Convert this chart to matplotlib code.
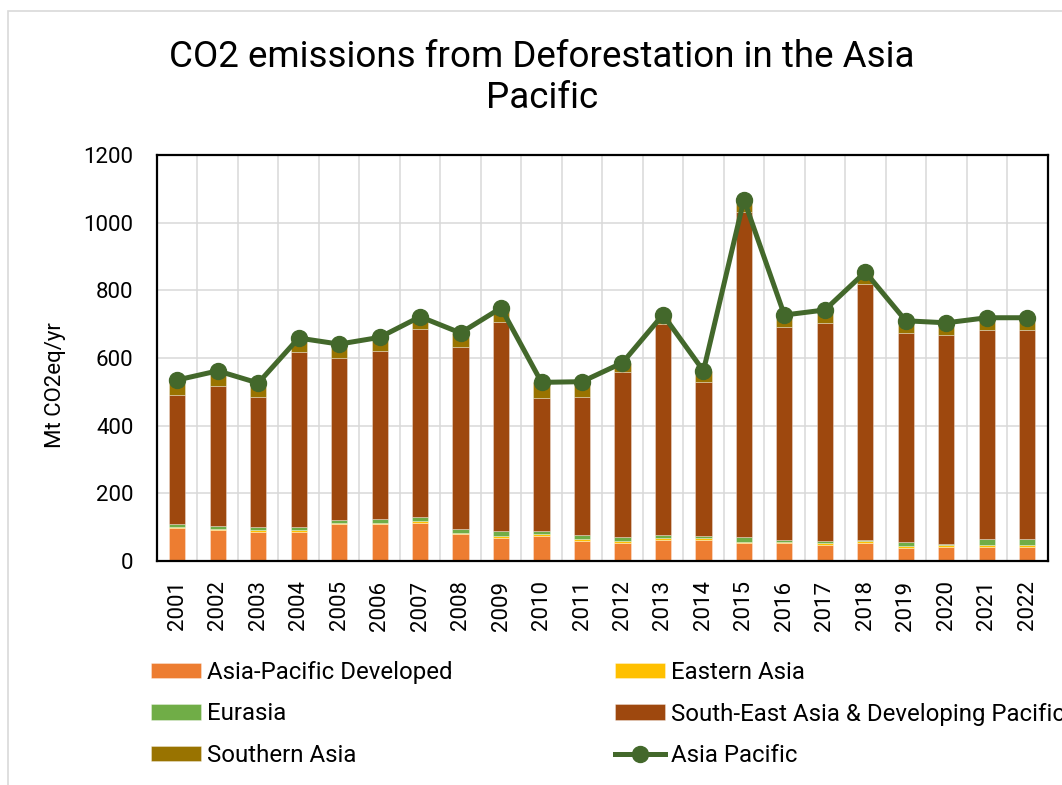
import matplotlib
matplotlib.use("Agg")
import matplotlib.pyplot as plt
from matplotlib.patches import Rectangle
import numpy as np

plt.rcParams['font.family'] = ['Roboto', 'DejaVu Sans']

years = [str(y) for y in range(2001, 2023)]

asia_pacific_developed = [98, 92, 87, 87, 108, 108, 113, 80, 69, 75, 59,
                          54, 61, 63, 52, 52, 48, 53, 37, 41, 41, 41]
eastern_asia = [3, 4, 4, 4, 4, 4, 5, 4, 4, 4, 5,
                5, 6, 5, 5, 5, 5, 5, 6, 6, 5, 6]
eurasia = [8, 8, 9, 10, 9, 12, 12, 10, 15, 10, 13,
           12, 11, 6, 15, 5, 7, 4, 14, 4, 19, 18]
south_east_asia = [383, 414, 384, 517, 480, 498, 557, 538, 619, 392, 409,
                   489, 623, 456, 961, 631, 644, 756, 618, 617, 618, 618]
southern_asia = [43, 44, 42, 41, 40, 39, 35, 42, 41, 47, 44,
                 26, 27, 32, 35, 34, 38, 36, 35, 36, 36, 36]

series = [
    ("Asia-Pacific Developed", asia_pacific_developed, "#ED7D31"),
    ("Eastern Asia", eastern_asia, "#FFC000"),
    ("Eurasia", eurasia, "#70AD47"),
    ("South-East Asia & Developing Pacific", south_east_asia, "#9E480E"),
    ("Southern Asia", southern_asia, "#997300"),
]
line_color = "#43682B"

# Regional total drawn as a line over the stacked bars
asia_pacific_total = np.sum([np.array(v) for _, v, _ in series], axis=0)

fig = plt.figure(figsize=(10.62, 7.85), dpi=100)
ax = fig.add_axes([157 / 1062, 1 - 561 / 785, (1047.5 - 157) / 1062, (561 - 155) / 785])

x = np.arange(len(years))
bottom = np.zeros(len(years))
handles = {}
for name, vals, color in series:
    h = ax.bar(x, vals, width=0.4, bottom=bottom, color=color,
               edgecolor=(1, 1, 1, 0.45), linewidth=0.5, zorder=2, label=name)
    handles[name] = h
    bottom += np.array(vals)

ln, = ax.plot(x, asia_pacific_total, color=line_color, linewidth=3.6,
              marker='o', markersize=11.5, zorder=3, label="Asia Pacific")

ax.set_xlim(-0.5, len(years) - 0.5)
ax.set_ylim(0, 1200)
ax.set_yticks(range(0, 1201, 200))
ax.set_xticks(x)
ax.set_xticklabels(years, rotation=90, fontsize=16)
ax.tick_params(axis='y', labelsize=16, length=0, pad=17)
ax.tick_params(axis='x', length=0, pad=14)
ax.set_xticks(np.arange(-0.5, len(years), 1), minor=True)
ax.tick_params(axis='x', which='minor', length=0)
ax.grid(axis='y', which='major', color='#D9D9D9', linewidth=1.1, zorder=0)
ax.grid(axis='x', which='minor', color='#D9D9D9', linewidth=1.1, zorder=0)
ax.grid(axis='x', which='major', visible=False)
ax.set_axisbelow(True)
for s in ax.spines.values():
    s.set_color('black')
    s.set_linewidth(1.6)

fig.text(55 / 1062, 1 - 385 / 785, "Mt CO2eq/yr", rotation=90,
         ha='center', va='center', fontsize=16)

fig.text(542 / 1062, 1 - 66.7 / 785, "CO2 emissions from Deforestation in the Asia",
         ha='center', va='baseline', fontsize=26.5)
fig.text(542 / 1062, 1 - 108.3 / 785, "Pacific",
         ha='center', va='baseline', fontsize=26.5)

leg_kw = dict(frameon=False, fontsize=17.3, handlelength=2.1, handleheight=0.6,
              handletextpad=0.25, labelspacing=0.76, borderpad=0, borderaxespad=0,
              loc='center left')
left_names = ["Asia-Pacific Developed", "Eurasia", "Southern Asia"]
fig.legend([handles[n] for n in left_names], left_names,
           bbox_to_anchor=(151 / 1062, 1 - 714 / 785), **leg_kw)
right_handles = [handles["Eastern Asia"],
                 handles["South-East Asia & Developing Pacific"], ln]
right_names = ["Eastern Asia", "South-East Asia & Developing Pacific", "Asia Pacific"]
fig.legend(right_handles, right_names,
           bbox_to_anchor=(615 / 1062, 1 - 714 / 785), **leg_kw)

# Chart-area border
fig.patches.append(Rectangle((8 / 1062, -0.1), 1.2, 1.1 - 11 / 785,
                             transform=fig.transFigure, fill=False,
                             edgecolor='#D9D9D9', linewidth=1.2))

fig.savefig("out.png", dpi=100)
